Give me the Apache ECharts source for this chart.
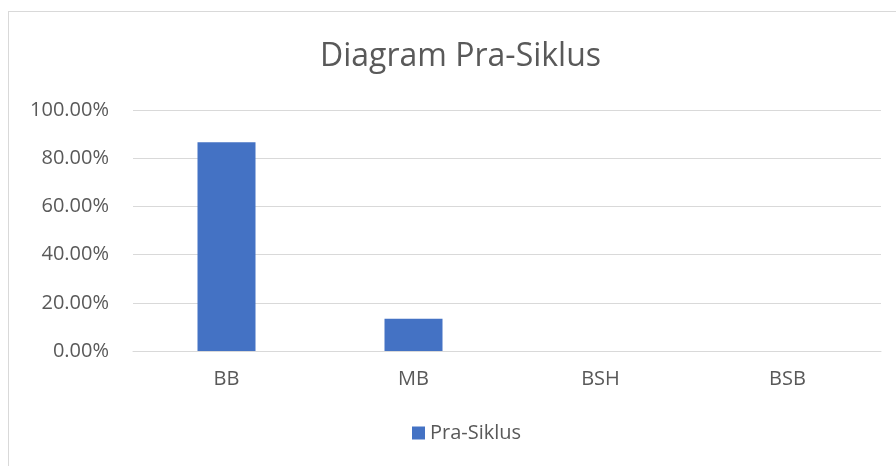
<!DOCTYPE html>
<html>
<head>
	<meta charset="utf-8">
	<title>Diagram Pra-Siklus</title>
	<script src="https://cdn.jsdelivr.net/npm/echarts@6/dist/echarts.min.js"></script>
	<style>
		body { margin: 0; background: #fff; }
		#frame { position: absolute; left: 8px; top: 11px; width: 1000px; height: 1000px; border: 1px solid #d9d9d9; }
		#main { position: absolute; left: 0; top: 0; width: 896px; height: 466px; }
	</style>
</head>
<body>
<div id="frame"></div>
<div id="main"></div>
<script>
	// data
	var categories = ['BB', 'MB', 'BSH', 'BSB'];
	var praSiklus = [86.67, 13.33, 0, 0];
	var seriesName = 'Pra-Siklus';

	var myChart = echarts.init(document.getElementById('main'));
	var font = '"Open Sans", "Liberation Sans", sans-serif';

	var option = {
		animation: false,
		title: {
			text: 'Diagram Pra-Siklus',
			left: 315,
			top: 36,
			textStyle: { fontFamily: font, fontSize: 32, fontWeight: 'normal', color: '#595959' }
		},
		legend: {
			bottom: 18,
			left: 407,
			itemWidth: 13,
			itemHeight: 13,
			itemGap: 5,
			textStyle: { fontFamily: font, fontSize: 20, color: '#595959' },
			data: [{ name: seriesName, icon: 'rect' }]
		},
		grid: { left: 133, right: 15, top: 110, bottom: 115 },
		xAxis: {
			type: 'category',
			data: categories,
			axisLine: { lineStyle: { color: '#d9d9d9' } },
			axisTick: { show: false },
			axisLabel: { fontFamily: font, fontSize: 20, color: '#595959', margin: 18 }
		},
		yAxis: {
			type: 'value',
			min: 0,
			max: 100,
			interval: 20,
			axisLine: { show: false },
			axisTick: { show: false },
			splitLine: { lineStyle: { color: '#d9d9d9', width: 1 } },
			axisLabel: {
				fontFamily: font, fontSize: 20, color: '#595959', margin: 24,
				formatter: function (v) { return v.toFixed(2) + '%'; }
			}
		},
		series: [{
			name: seriesName,
			type: 'bar',
			barWidth: 58,
			itemStyle: { color: '#4472c4' },
			data: praSiklus
		}]
	};

	option && myChart.setOption(option);
</script>
</body>
</html>
